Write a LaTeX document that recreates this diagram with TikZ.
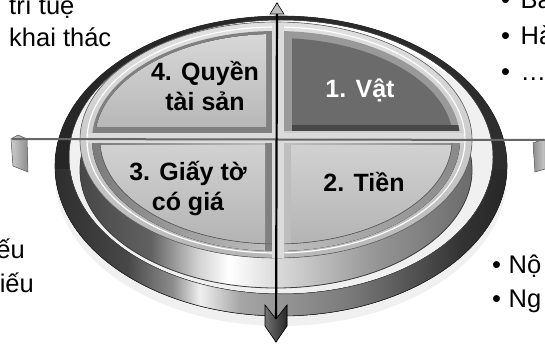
\documentclass[tikz,border=0pt]{standalone}
\usepackage{fontspec}
\setmainfont{Liberation Sans}
\pgfdeclarehorizontalshading{ringfront}{100bp}{color(0bp)=(black!82); color(25bp)=(black!82); color(33bp)=(black!72); color(38bp)=(black!45); color(41bp)=(black!6); color(45.5bp)=(black!35); color(57.5bp)=(black!52); color(70bp)=(black!80); color(75bp)=(black!85); color(100bp)=(black!85)}
\pgfdeclarehorizontalshading{diskside}{100bp}{color(0bp)=(black!72); color(25bp)=(black!72); color(34bp)=(black!62); color(40bp)=(black!18); color(44bp)=(white); color(49bp)=(black!12); color(63bp)=(black!42); color(75bp)=(black!58); color(100bp)=(black!58)}
\begin{document}
\begin{tikzpicture}[x=1pt,y=-1pt,
  qtext/.style={font=\bfseries\fontsize{25}{30}\selectfont, align=center, inner sep=0},
  side/.style={font=\fontsize{25.5}{30}\selectfont, inner sep=0},
]
\useasboundingbox (0,0) rectangle (545,347);
\clip (0,0) rectangle (545,347);

% soft shadow
\fill[black!6] (281,176) ellipse [x radius=226, y radius=150];

% ring (back, dark)
\fill[even odd rule, left color=black!85, middle color=black!55, right color=black!82]
  (281,166) ellipse [x radius=226, y radius=150] (281,157) ellipse [x radius=212, y radius=137];
% ring (front, shaded)
\begin{scope}
  \clip (0,170) rectangle (545,347);
  \fill[even odd rule, shading=ringfront]
    (281,166) ellipse [x radius=226, y radius=150] (281,157) ellipse [x radius=212, y radius=137];
\end{scope}
\draw[black!85, line width=0.6] (281,166) ellipse [x radius=226, y radius=150];
\draw[black!70, line width=0.5] (281,157) ellipse [x radius=212, y radius=137];

% disk side
\fill[shading=diskside] (276,170) ellipse [x radius=196, y radius=118];
\draw[black!75, line width=0.8] (276,170) ellipse [x radius=196, y radius=118];

% disk top face
\fill[top color=black!12, bottom color=black!28] (276,140) ellipse [x radius=196, y radius=118];
\draw[black!60, line width=0.6] (276,140) ellipse [x radius=196, y radius=118];
\draw[white, line width=1.2] (276,140) ellipse [x radius=189, y radius=113];

% Q4 (top-left)
\begin{scope}
  \clip (276,140) ellipse [x radius=184, y radius=109];
  \fill[black!50] (70,15) rectangle (272,133);
\end{scope}
\begin{scope}
  \clip (276,140) ellipse [x radius=181, y radius=106];
  \fill[top color=black!13, bottom color=black!28] (70,15) rectangle (266,127);
\end{scope}
% Q1 (top-right)
\begin{scope}
  \clip (276,140) ellipse [x radius=184, y radius=109];
  \fill[black!40] (284,15) rectangle (490,131);
  \fill[black!72] (292,125) rectangle (490,131);
\end{scope}
\begin{scope}
  \clip (276,140) ellipse [x radius=177, y radius=102];
  \fill[black!58] (292,15) rectangle (490,125);
\end{scope}
% Q3 (bottom-left)
\begin{scope}
  \clip (276,140) ellipse [x radius=184, y radius=111];
  \fill[left color=black!55, right color=black!25] (70,143) rectangle (272,265);
  \fill[black!50] (265,143) rectangle (272,265);
\end{scope}
\begin{scope}
  \clip (276,140) ellipse [x radius=176, y radius=104];
  \fill[top color=black!18, bottom color=black!32] (70,146) rectangle (265,265);
\end{scope}
% Q2 (bottom-right)
\begin{scope}
  \clip (276,140) ellipse [x radius=184, y radius=111];
  \fill[left color=black!25, right color=black!50] (284,143) rectangle (490,265);
\end{scope}
\begin{scope}
  \clip (276,140) ellipse [x radius=176, y radius=104];
  \fill[top color=black!18, bottom color=black!32] (291,146) rectangle (490,265);
\end{scope}
\begin{scope}
  \clip (70,143) rectangle (490,265);
  \draw[black!65, line width=0.6] (276,140) ellipse [x radius=176, y radius=104];
\end{scope}
% gaps
\fill[black!14] (272,24) rectangle (284,258);
\fill[black!14] (88,133) rectangle (464,143);

% axis ends
\filldraw[left color=black!20, right color=black!45, draw=black!60, line width=0.5]
  (11,139) -- (18,135) -- (27,139) -- (28,172) -- (13,166) -- cycle;
\filldraw[left color=black!45, right color=black!20, draw=black!60, line width=0.5]
  (533,143) -- (544,139) -- (545,141) -- (545,169) -- (535,172) -- cycle;

% axes
\coordinate (vt) at (277,3);
\coordinate (vb) at (276,342);
\coordinate (hl) at (12,139);
\coordinate (hr) at (544,140);
\draw[black!60, line width=2] (hl) -- (hr);
\draw[black, line width=2.2] (vt) -- (vb);
\filldraw[fill=black!25, draw=black, line width=0.6] (270,14) -- (vt) -- (284,14) -- cycle;
\filldraw[left color=black!55, right color=black!85, draw=black, line width=0.6]
  (265,305) -- (265,326) -- (vb) -- (287,326) -- (287,305) -- (276,319) -- cycle;

% quadrant labels
\node[qtext] (q4) at (205,86) {4. Quyền\\tài sản};
\node[qtext, text=white, anchor=base] (q1) at (360,98) {1. Vật};
\node[qtext] (q3) at (188,189) {3. Giấy tờ\\có giá};
\node[qtext, anchor=base] (q2) at (364,192) {2. Tiền};

% side texts
\node[side, anchor=base west] (tl1) at (9,15) {trí tuệ};
\node[side, anchor=base west] (tl2) at (9,47) {khai thác};
\node[side, anchor=base west] (tr1) at (501,9) {•\hspace{10.5pt}Ba};
\node[side, anchor=base west] (tr2) at (501,45) {•\hspace{10.5pt}Hà};
\node[side, anchor=base west] (tr3) at (501,81) {•\hspace{10.5pt}…};
\node[side, anchor=base east] (bl1) at (25,258) {ếu};
\node[side, anchor=base east] (bl2) at (34,292) {iếu};
\node[side, anchor=base west] (br1) at (492,273) {•\hspace{7.5pt}Nộ};
\node[side, anchor=base west] (br2) at (492,307) {•\hspace{7.5pt}Ng};
\end{tikzpicture}
\end{document}
